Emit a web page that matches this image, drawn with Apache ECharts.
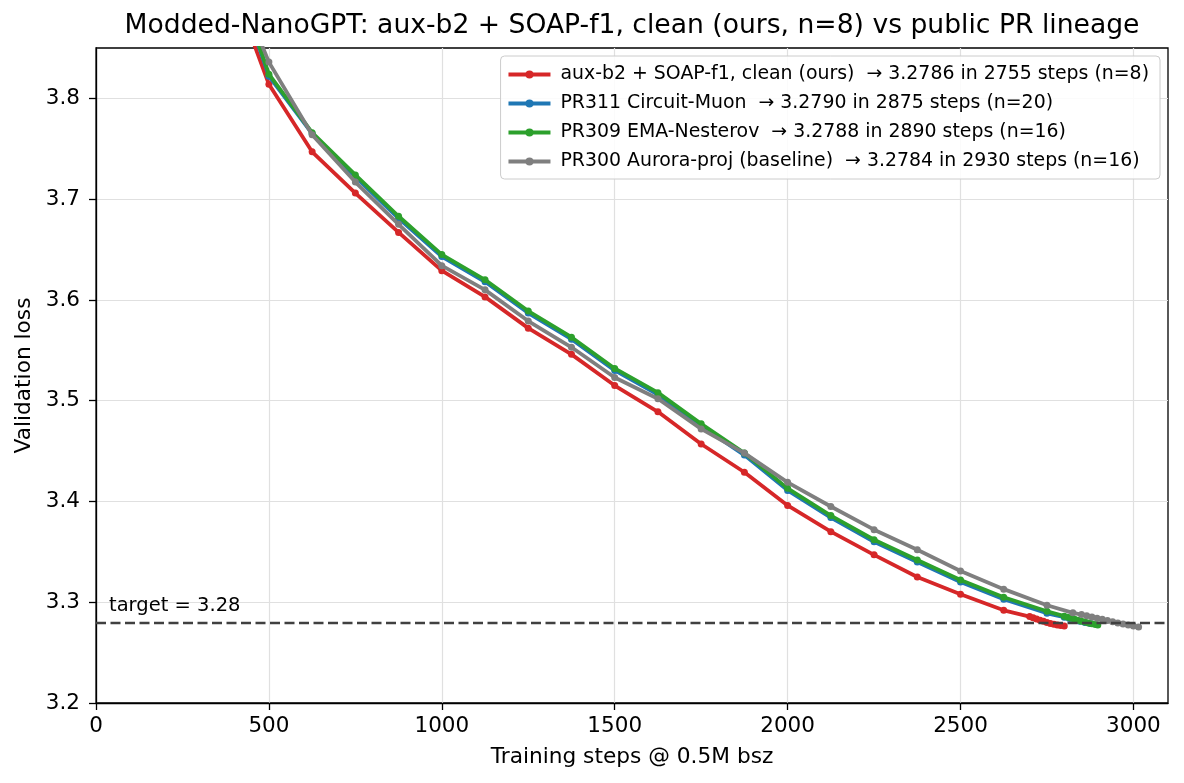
<!DOCTYPE html>
<html>
<head>
<meta charset="utf-8">
<script src="https://cdn.jsdelivr.net/npm/echarts@6/dist/echarts.min.js"></script>
<style>
html,body{margin:0;padding:0;background:#fff;}
#chart{width:1184px;height:783px;}
</style>
</head>
<body>
<div id="chart"></div>
<script>
// ---- data ----
const xTicks = [0, 500, 1000, 1500, 2000, 2500, 3000];
const yTicks = [3.2, 3.3, 3.4, 3.5, 3.6, 3.7, 3.8];
const targetLoss = 3.28;

const seriesNames = [
  'aux-b2 + SOAP-f1, clean (ours)  \u2192 3.2786 in 2755 steps (n=8)',
  'PR311 Circuit-Muon  \u2192 3.2790 in 2875 steps (n=20)',
  'PR309 EMA-Nesterov  \u2192 3.2788 in 2890 steps (n=16)',
  'PR300 Aurora-proj (baseline)  \u2192 3.2784 in 2930 steps (n=16)'
];

const redSteps = [375, 500, 625, 750, 875, 1000, 1125, 1250, 1375, 1500, 1625, 1750, 1875, 2000, 2125, 2250, 2375, 2500, 2625,
  2700, 2710, 2720, 2730, 2740, 2750, 2760, 2770, 2780, 2790, 2800];
const redLoss = [3.930, 3.814, 3.747, 3.706, 3.667, 3.629, 3.603, 3.572, 3.546, 3.515, 3.489, 3.457, 3.429, 3.396, 3.370, 3.347, 3.325, 3.308, 3.292,
  3.2858, 3.2846, 3.2834, 3.2822, 3.2811, 3.2800, 3.2790, 3.2782, 3.2775, 3.2769, 3.2764];

const blueSteps = [375, 500, 625, 750, 875, 1000, 1125, 1250, 1375, 1500, 1625, 1750, 1875, 2000, 2125, 2250, 2375, 2500, 2625, 2750,
  2800, 2815, 2830, 2845, 2860, 2875];
const blueLoss = [3.948, 3.822, 3.765, 3.722, 3.681, 3.643, 3.618, 3.587, 3.561, 3.530, 3.506, 3.475, 3.446, 3.411, 3.384, 3.360, 3.340, 3.320, 3.303, 3.289,
  3.2852, 3.2838, 3.2824, 3.2811, 3.2799, 3.2788];

const greenSteps = [375, 500, 625, 750, 875, 1000, 1125, 1250, 1375, 1500, 1625, 1750, 1875, 2000, 2125, 2250, 2375, 2500, 2625, 2750,
  2800, 2810, 2820, 2830, 2840, 2850, 2860, 2870, 2880, 2890, 2897];
const greenLoss = [3.950, 3.824, 3.766, 3.724, 3.683, 3.645, 3.620, 3.589, 3.563, 3.532, 3.508, 3.477, 3.448, 3.413, 3.386, 3.362, 3.342, 3.322, 3.305, 3.291,
  3.2862, 3.2851, 3.2841, 3.2831, 3.2821, 3.2812, 3.2803, 3.2794, 3.2786, 3.2779, 3.2774];

const graySteps = [375, 500, 625, 750, 875, 1000, 1125, 1250, 1375, 1500, 1625, 1750, 1875, 2000, 2125, 2250, 2375, 2500, 2625, 2750,
  2825, 2850, 2865, 2880, 2895, 2910, 2925, 2940, 2955, 2970, 2985, 3000, 3015];
const grayLoss = [3.940, 3.836, 3.764, 3.717, 3.675, 3.634, 3.610, 3.579, 3.553, 3.523, 3.502, 3.472, 3.448, 3.419, 3.395, 3.372, 3.352, 3.331, 3.313, 3.297,
  3.2895, 3.2878, 3.2866, 3.2854, 3.2842, 3.2830, 3.2818, 3.2806, 3.2795, 3.2784, 3.2773, 3.2763, 3.2754];

const colors = ['#d62728', '#1f77b4', '#2ca02c', '#7f7f7f'];

// ---- build ----
function pairs(xs, ys) { return xs.map((x, i) => [x, ys[i]]); }
const allData = [pairs(redSteps, redLoss), pairs(blueSteps, blueLoss), pairs(greenSteps, greenLoss), pairs(graySteps, grayLoss)];

const FONT = 'DejaVu Sans';
const chart = echarts.init(document.getElementById('chart'), null, {renderer: 'canvas'});

const series = allData.map((d, i) => ({
  name: seriesNames[i],
  type: 'line',
  data: d,
  symbol: 'circle',
  symbolSize: 7,
  showAllSymbol: true,
  clip: true,
  lineStyle: {color: colors[i], width: 3.8},
  itemStyle: {color: colors[i]},
  emphasis: {disabled: true},
  z: 2 + i
}));

series.push({
  name: 'target',
  type: 'line',
  data: [],
  z: 20,
  markLine: {
    silent: true,
    symbol: ['none', 'none'],
    z: 20,
    lineStyle: {color: '#404040', type: [10, 4.5], width: 2.4},
    label: {
      show: true,
      position: 'insideStartTop',
      formatter: 'target = ' + targetLoss.toFixed(2),
      fontFamily: FONT,
      fontSize: 19.5,
      color: '#000',
      distance: [13, 6]
    },
    data: [{yAxis: targetLoss}]
  }
});

chart.setOption({
  animation: false,
  backgroundColor: '#fff',
  textStyle: {fontFamily: FONT},
  title: {
    text: 'Modded-NanoGPT: aux-b2 + SOAP-f1, clean (ours, n=8) vs public PR lineage',
    left: 632,
    textAlign: 'center',
    top: 13,
    padding: 0,
    textStyle: {fontFamily: FONT, fontSize: 26.6, fontWeight: 'normal', color: '#000'}
  },
  legend: {
    data: seriesNames,
    orient: 'vertical',
    right: 24,
    top: 56,
    padding: [9, 11, 8, 6],
    itemWidth: 42,
    itemHeight: 10,
    itemGap: 10,
    lineStyle: {width: 3.8},
    backgroundColor: 'rgba(255,255,255,0.85)',
    borderColor: '#cccccc',
    borderWidth: 1,
    borderRadius: 4,
    selectedMode: false,
    textStyle: {fontFamily: FONT, fontSize: 18.9, color: '#000', padding: [0, 0, 0, 5]}
  },
  grid: {
    left: 96, right: 16, top: 48, bottom: 80,
    show: true, borderColor: '#000', borderWidth: 1.3,
    containLabel: false
  },
  xAxis: {
    type: 'value',
    min: 0, max: 3100, interval: 500,
    name: 'Training steps @ 0.5M bsz',
    nameLocation: 'middle',
    nameGap: 43,
    nameTextStyle: {fontFamily: FONT, fontSize: 21.7, color: '#000'},
    axisLine: {show: true, lineStyle: {color: '#000', width: 1.3}},
    axisTick: {show: true, length: 7, lineStyle: {color: '#000', width: 1.3}, customValues: xTicks},
    axisLabel: {fontFamily: FONT, fontSize: 21.5, color: '#000', margin: 12, customValues: xTicks,
      formatter: v => String(v)},
    splitLine: {show: true, lineStyle: {color: '#e0e0e0', width: 1.2}}
  },
  yAxis: {
    type: 'value',
    min: 3.2, max: 3.85, interval: 0.1,
    name: 'Validation loss',
    nameLocation: 'middle',
    nameGap: 58,
    nameTextStyle: {fontFamily: FONT, fontSize: 21.7, color: '#000'},
    axisLine: {show: true, lineStyle: {color: '#000', width: 1.3}},
    axisTick: {show: true, length: 7, lineStyle: {color: '#000', width: 1.3}, customValues: yTicks},
    axisLabel: {fontFamily: FONT, fontSize: 21.5, color: '#000', margin: 16, customValues: yTicks,
      formatter: v => Number(v).toFixed(1)},
    splitLine: {show: true, lineStyle: {color: '#e0e0e0', width: 1.2}}
  },
  series: series
});
</script>
</body>
</html>
